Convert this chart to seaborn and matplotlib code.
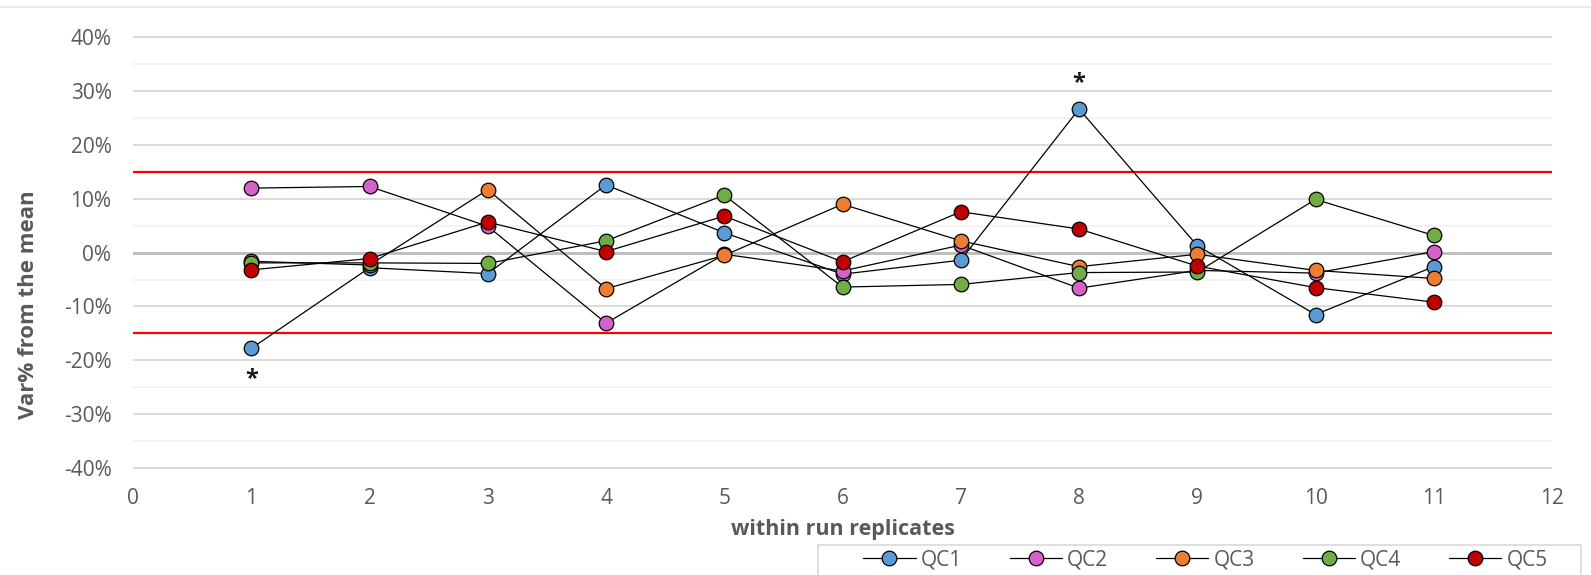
import pandas as pd
import matplotlib.pyplot as plt
import seaborn as sns
from matplotlib.lines import Line2D
from matplotlib.patches import Rectangle
from matplotlib.ticker import MultipleLocator, FuncFormatter

# DATA (var% from the mean)
replicates = list(range(1, 12))
qc1 = [-17.8, -2.8, -3.9, 12.6, 3.7, -4.0, -1.4, 26.7, 1.3, -11.5, -2.6]
qc2 = [12.0, 12.3, 4.9, -13.1, -0.3, -3.4, 1.4, -6.6, -3.3, -3.8, 0.2]
qc3 = [-1.6, -2.3, 11.7, -6.7, -0.5, 9.0, 2.2, -2.6, -0.3, -3.3, -4.8]
qc4 = [-1.9, -1.9, -2.0, 2.2, 10.7, -6.4, -5.9, -3.7, -3.6, 9.9, 3.2]
qc5 = [-3.2, -1.1, 5.7, 0.2, 6.8, -1.7, 7.6, 4.4, -2.5, -6.5, -9.2]

series_names = ["QC1", "QC2", "QC3", "QC4", "QC5"]
series_colors = ["#5B9BD5", "#D462C8", "#ED7D31", "#70AD47", "#C00000"]

# acceptance limits
limits = [-15, 15]

# outliers flagged with an asterisk (QC1)
flag_x = [1, 8]

# long-form table
df = pd.DataFrame({
    "replicate": replicates * 5,
    "var": qc1 + qc2 + qc3 + qc4 + qc5,
    "qc": [n for n in series_names for _ in replicates],
})

sns.set_style("white")
plt.rcParams["font.family"] = ["Open Sans", "DejaVu Sans"]

text_col = "#595959"

fig = plt.figure(figsize=(15.91, 5.75), dpi=100)
ax = fig.add_axes([0.0836, 0.1845, 0.8919, 0.7522])

# grid
ax.set_xlim(0, 12)
ax.set_ylim(-40.2, 40.2)
ax.set_xticks(range(0, 13))
ax.yaxis.set_major_locator(MultipleLocator(10))
ax.yaxis.set_minor_locator(MultipleLocator(5))
ax.yaxis.set_major_formatter(FuncFormatter(lambda v, p: f"{v:.0f}%"))
ax.grid(which="major", axis="y", color="#d9d9d9", lw=1.3)
ax.grid(which="minor", axis="y", color="#f2f2f2", lw=1.3)
ax.grid(False, axis="x")
ax.set_axisbelow(True)

# zero line and limits
ax.axhline(0, color="#bfbfbf", lw=2.2, zorder=1)
for lim in limits:
    ax.axhline(lim, color="#ff0000", lw=1.6, zorder=1)

# one line per QC: black line, coloured markers
for name, col in zip(series_names, series_colors):
    sub = df[df["qc"] == name]
    sns.lineplot(
        data=sub, x="replicate", y="var", ax=ax,
        color="black", lw=0.9, errorbar=None,
        marker="o", markersize=10.5, markerfacecolor=col,
        markeredgecolor="black", markeredgewidth=0.9,
        label=name, zorder=3,
    )

# asterisks on the QC1 outliers
for fx in flag_x:
    v = qc1[replicates.index(fx)]
    off = 19 if v > 0 else -22
    ax.annotate("*", (fx, v), xytext=(0, off), textcoords="offset points",
                ha="center", va="center", fontsize=17, fontweight="bold",
                color="#1a1a1a")

for s in ax.spines.values():
    s.set_visible(False)

ax.tick_params(which="both", length=0, labelsize=15, colors=text_col)
ax.tick_params(axis="y", pad=15.5)
ax.tick_params(axis="x", pad=14)

ax.set_xlabel("within run replicates", fontsize=15.5, fontweight="bold", color=text_col)
ax.xaxis.set_label_coords(0.5, -0.116)
ax.set_ylabel("Var% from the mean", fontsize=16, fontweight="bold", color=text_col)
ax.yaxis.set_label_coords(-0.066, 0.38)

# legend at the bottom right (box drawn separately, Excel-like padding)
handles, labels = ax.get_legend_handles_labels()
ax.get_legend().remove()
fig.legend(handles, labels, ncol=5, loc="center",
           bbox_to_anchor=(0.7577, 0.026), bbox_transform=fig.transFigure,
           frameon=False, fontsize=15, labelcolor=text_col, handlelength=2.5,
           handletextpad=0.25, columnspacing=2.3, borderpad=0.0)
fig.add_artist(Rectangle((818 / 1591, -0.02), 763 / 1591, 30 / 575 + 0.02,
                         transform=fig.transFigure, facecolor="none",
                         edgecolor="#d9d9d9", lw=1.2))

# light chart border at top
fig.add_artist(Line2D([0, 1], [0.988, 0.988], transform=fig.transFigure,
                      color="#e8e8e8", lw=1.2))

plt.savefig("out.png", dpi=100)
